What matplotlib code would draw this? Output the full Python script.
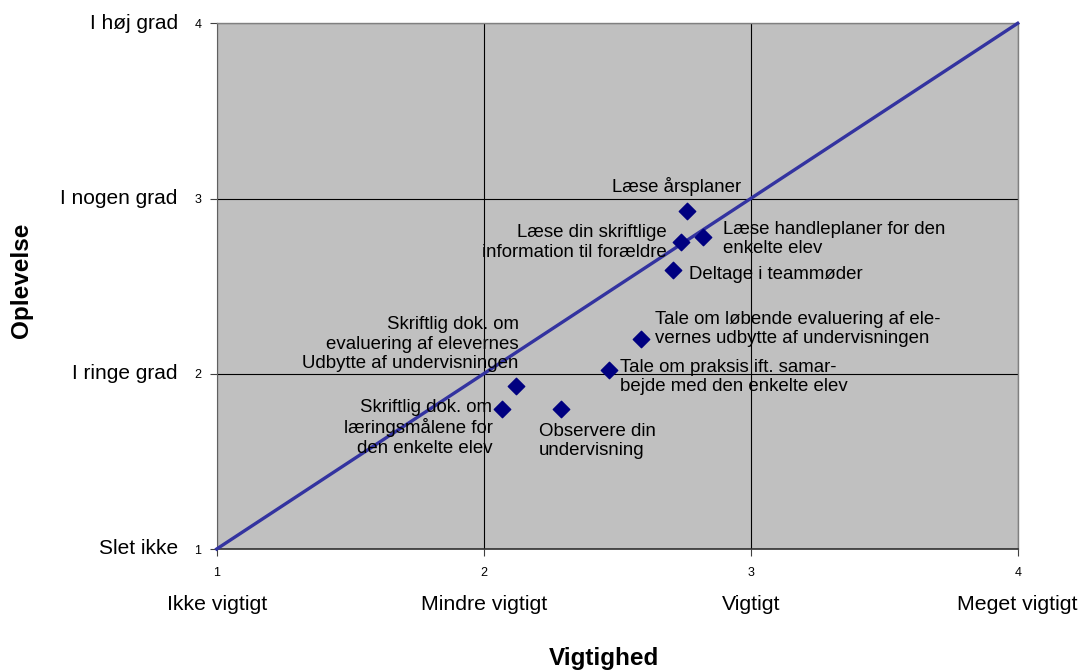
import matplotlib.pyplot as plt
from matplotlib.patches import Rectangle

plt.rcParams['font.family'] = ['Liberation Sans', 'DejaVu Sans']

# vigtighed (x) og oplevelse (y) for hver aktivitet
aktiviteter = [
    "Læse årsplaner",
    "Læse din skriftlige\ninformation til forældre",
    "Læse handleplaner for den\nenkelte elev",
    "Deltage i teammøder",
    "Tale om løbende evaluering af ele-\nvernes udbytte af undervisningen",
    "Tale om praksis ift. samar-\nbejde med den enkelte elev",
    "Skriftlig dok. om\nevaluering af elevernes\nUdbytte af undervisningen",
    "Skriftlig dok. om\nlæringsmålene for\nden enkelte elev",
    "Observere din\nundervisning",
]
vigtighed = [2.76, 2.74, 2.82, 2.71, 2.59, 2.47, 2.12, 2.07, 2.29]
oplevelse = [2.93, 2.75, 2.78, 2.59, 2.20, 2.02, 1.93, 1.80, 1.80]

x_ticks = [1, 2, 3, 4]
x_kategorier = ["Ikke vigtigt", "Mindre vigtigt", "Vigtigt", "Meget vigtigt"]
y_ticks = [1, 2, 3, 4]
y_kategorier = ["Slet ikke", "I ringe grad", "I nogen grad", "I høj grad"]

# label placement: offset in pixels, horizontal alignment
placering = [
    ((-10, 24), 'center'),
    ((-15, 0), 'right'),
    ((20, -2), 'left'),
    ((16, -4), 'left'),
    ((14, 10), 'left'),
    ((11, -7), 'left'),
    ((3, 42), 'right'),
    ((-10, -19), 'right'),
    ((-22, -32), 'left'),
]

fig = plt.figure(figsize=(10.78, 6.7), dpi=100)
ax = fig.add_axes([216.7 / 1078, 1 - 549 / 670, 801 / 1078, 525.7 / 670])
ax.set_facecolor('#c0c0c0')
ax.set_xlim(1, 4)
ax.set_ylim(1, 4)

ax.grid(True, color='black', linewidth=0.8)
ax.set_axisbelow(True)
for side in ['top', 'right']:
    ax.spines[side].set_color('#808080')
    ax.spines[side].set_linewidth(1.0)
ax.spines['left'].set_color('#606060')
ax.spines['bottom'].set_color('#303030')
ax.spines['bottom'].set_linewidth(1.2)

ax.plot([1, 4], [1, 4], color='#3333a0', linewidth=2.4, clip_on=False, zorder=3)
ax.scatter(vigtighed, oplevelse, marker='D', s=70, color='#000080', zorder=4)

for navn, x, y, (off, ha) in zip(aktiviteter, vigtighed, oplevelse, placering):
    ax.annotate(navn, (x, y), xytext=(off[0] * 0.72, off[1] * 0.72),
                textcoords='offset points', ha=ha, va='center',
                multialignment=ha, fontsize=13.4, linespacing=1.18,
                zorder=5)

ax.set_xticks(x_ticks)
ax.set_yticks(y_ticks)
ax.tick_params(axis='both', labelsize=9, length=5, color='#404040')
ax.tick_params(axis='x', pad=8)
ax.tick_params(axis='y', pad=6)

for x, navn in zip(x_ticks, x_kategorier):
    ax.text(x, -0.106, navn, transform=ax.get_xaxis_transform(),
            ha='center', va='center', fontsize=15.3)

# the lowest category label is cut off just under the axis
kant = Rectangle((0, 1 - 554 / 670), 1, 554 / 670, transform=fig.transFigure)
for y, navn in zip(y_ticks, y_kategorier):
    t = ax.text(-0.0487, y, navn, transform=ax.get_yaxis_transform(),
                ha='right', va='center', fontsize=15)
    t.set_clip_path(kant)

fig.text(604 / 1078, 1 - 658 / 670, "Vigtighed", ha='center', va='center',
         fontsize=17.5, fontweight='bold')
fig.text(22 / 1078, 1 - 280 / 670, "Oplevelse", ha='center', va='center',
         fontsize=17.5, fontweight='bold', rotation=90)

fig.savefig('out.png', dpi=100)
